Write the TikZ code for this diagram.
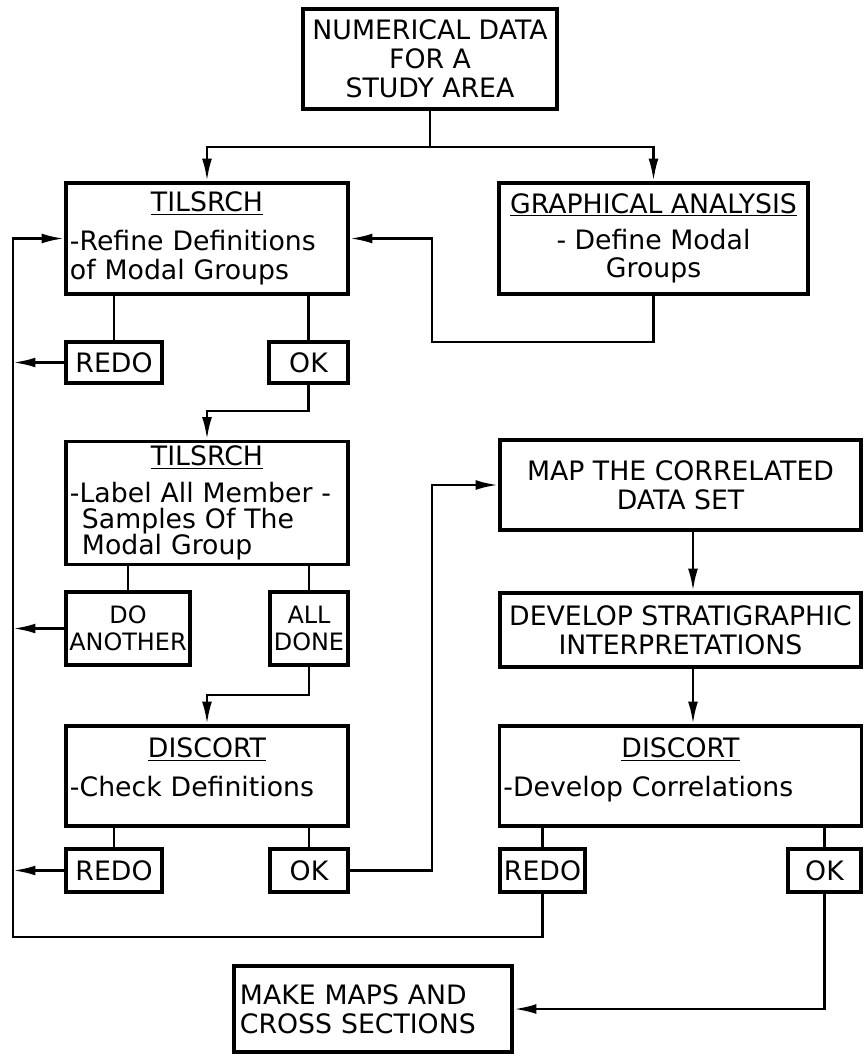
\documentclass[tikz,border=0pt]{standalone}
\usepackage{fontspec}
\setmainfont{DejaVu Sans}
\usetikzlibrary{arrows.meta}
\setlength{\parindent}{0pt}

\begin{document}
\begin{tikzpicture}[
    x=0.025cm, y=-0.025cm,
    font=\fontsize{19}{20.5}\selectfont,
    box/.style={draw, line width=2.6pt, inner xsep=0.1cm, inner ysep=0pt, align=center},
    body/.style={text width=#1, align=left},
    small/.style={font=\fontsize{17}{19}\selectfont},
    line/.style={line width=1.9pt},
    arr/.style={line, -{Latex[length=16pt, width=7pt]}}
]
    \useasboundingbox (0,0) rectangle (863,1054);

    % Rails
    \coordinate (rail) at (13,0);
    \coordinate (railend) at (13,937);
    \coordinate (spine) at (693,0);
    \coordinate (split) at (430,147);

    % Left column
    \node[box, minimum width=6.35cm, minimum height=2.5cm] (data) at (430,59)
        {NUMERICAL DATA\\FOR A\\STUDY AREA};
    \node[box, body=6.85cm, minimum width=7.05cm, minimum height=2.775cm] (tils1) at (207,238.5)
        {{\centering\underline{TILSRCH}\par}\vspace{7pt}-Refine Definitions\\of Modal Groups};
    \node[box, minimum width=2.4cm, minimum height=1.025cm] (redoA) at (114,362.5) {REDO};
    \node[box, minimum width=1.975cm, minimum height=1.025cm] (okA) at (308.5,362.5) {OK};
    \node[box, body=6.85cm, minimum width=7.05cm, minimum height=3.075cm,
          font=\fontsize{19}{18.5}\selectfont] (tils2) at (207,503)
        {{\centering\underline{TILSRCH}\par}\vspace{8pt}-Label All Member -\\
         \hspace*{0.3cm}Samples Of The\\\hspace*{0.3cm}Modal Group};
    \node[box, small, inner xsep=0pt, minimum width=3.1cm, minimum height=1.825cm] (doan) at (128,628.5) {DO\\ANOTHER};
    \node[box, small, inner xsep=0pt, minimum width=1.95cm, minimum height=1.825cm] (alld) at (309,628.5) {ALL\\DONE};
    \node[box, body=6.85cm, text depth=40pt, minimum width=7.05cm, minimum height=2.5cm] (disc1) at (207,776)
        {{\centering\underline{DISCORT}\par}\vspace{7pt}-Check Definitions};
    \node[box, minimum width=2.4cm, minimum height=1.075cm] (redoB) at (114,870.5) {REDO};
    \node[box, minimum width=1.95cm, minimum height=1.075cm] (okB) at (309,870.5) {OK};

    % Right column
    \node[box, minimum width=7.725cm, minimum height=2.775cm] (graph) at (653.5,238.5)
        {\underline{GRAPHICAL ANALYSIS}\\[5pt]- Define Modal\\Groups};
    \node[box, minimum width=9.025cm, minimum height=2.25cm] (mapset) at (680.5,485)
        {MAP THE CORRELATED\\DATA SET};
    \node[box, minimum width=9.025cm, minimum height=1.85cm] (strat) at (680.5,630)
        {DEVELOP STRATIGRAPHIC\\INTERPRETATIONS};
    \node[box, body=8.85cm, text depth=40pt, minimum width=9.025cm, minimum height=2.5cm] (disc2) at (680.5,776)
        {{\centering\underline{DISCORT}\par}\vspace{7pt}-Develop Correlations};
    \node[box, minimum width=2.075cm, minimum height=1.075cm] (redoC) at (542.5,870.5) {REDO};
    \node[box, minimum width=1.825cm, minimum height=1.075cm] (okC) at (824.5,870.5) {OK};
    \node[box, body=6.65cm, minimum width=6.95cm, minimum height=2.15cm] (make) at (373,1009)
        {MAKE MAPS AND\\CROSS SECTIONS};

    % From the data to both analyses
    \draw[line] (data) -- (split);
    \draw[arr] (split) -| (tils1.north);
    \draw[arr] (split) -| (graph.north);
    \draw[arr] (graph.south) |- (432,342) |- (tils1.east);

    % TILSRCH (refine)
    \draw[line] (tils1.south -| redoA) -- (redoA);
    \draw[line] (tils1.south -| okA) -- (okA);
    \draw[arr] (redoA.west) -- (redoA.west -| rail);
    \draw[arr] (okA.south) -- ++(0,26) -| (tils2.north);

    % TILSRCH (label)
    \draw[line] (tils2.south -| doan) -- (doan);
    \draw[line] (tils2.south -| alld) -- (alld);
    \draw[arr] (doan.west) -- (doan.west -| rail);
    \draw[arr] (alld.south) -- ++(0,28) -| (disc1.north);

    % DISCORT (check)
    \draw[line] (disc1.south -| redoB) -- (redoB);
    \draw[line] (disc1.south -| okB) -- (okB);
    \draw[arr] (redoB.west) -- (redoB.west -| rail);
    \draw[arr] (okB.east) -- ++(82,0) |- (mapset.west);

    % Mapping and correlation
    \draw[arr] (mapset.south -| spine) -- (strat.north -| spine);
    \draw[arr] (strat.south -| spine) -- (disc2.north -| spine);
    \draw[line] (disc2.south -| redoC) -- (redoC);
    \draw[line] (disc2.south -| okC) -- (okC);
    \draw[arr] (okC.south) |- (make.east);

    % Loop back to the start
    \draw[arr] (redoC.south) |- (railend) |- (tils1.west);

\end{tikzpicture}
\end{document}
